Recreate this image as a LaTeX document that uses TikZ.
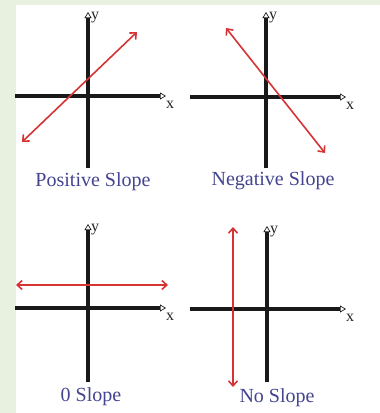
\documentclass[tikz,border=0pt]{standalone}
\usepackage{fontspec}
\setmainfont{Liberation Serif}
\usepackage{xcolor}
\usetikzlibrary{arrows.meta,positioning}
\definecolor{pagegreen}{RGB}{232,240,223}
\definecolor{slopered}{RGB}{214,52,52}
\definecolor{captionblue}{RGB}{68,68,145}

\begin{document}
\begin{tikzpicture}[
    x=1pt, y=-1pt,
    axis/.style={line width=3.2pt, black!90, -{Triangle[open, length=6pt, width=7pt, line width=0.7pt]}},
    slopeline/.style={line width=1.6pt, slopered, {Straight Barb[length=5pt, width=9pt]}-{Straight Barb[length=5pt, width=9pt]}},
    lbl/.style={font=\fontsize{16}{16}\selectfont, inner sep=0pt, text=black!85},
    caption/.style={font=\fontsize{20}{22}\selectfont, text=captionblue, inner sep=0pt}
]
% page and panel
\fill[pagegreen] (0,0) rectangle (380,413);
\fill[white] (16,5) rectangle (380,413);
\useasboundingbox (0,0) rectangle (380,413);

% axes: x left/right, y top/bottom, origin
\foreach \n/\xl/\xr/\yt/\yb/\ox/\oy in {pos/15/166/12/168/88/96,
                                        neg/190/346/12/168/266/97,
                                        zero/15/166/224/382/88/308,
                                        none/190/346/226/382/267/309}
{
    \coordinate (\n-xl) at (\xl,\oy);
    \coordinate (\n-xr) at (\xr,\oy);
    \coordinate (\n-yb) at (\ox,\yb);
    \coordinate (\n-yt) at (\ox,\yt);
    \draw[axis] (\n-xl) -- (\n-xr);
    \draw[axis] (\n-yb) -- (\n-yt);
    \node[lbl, anchor=north west] (\n-x) at ([xshift=0pt, yshift=-5pt]\n-xr) {x};
    \node[lbl, anchor=west] (\n-y) at ([xshift=3pt, yshift=-6pt]\n-yt) {y};
}

% slope lines
\coordinate (pos-a) at (22,142);
\coordinate (pos-b) at (137,32);
\draw[slopeline] (pos-a) -- (pos-b);

\coordinate (neg-a) at (226,28);
\coordinate (neg-b) at (325,153);
\draw[slopeline] (neg-a) -- (neg-b);

\coordinate (zero-a) at (16,285);
\coordinate (zero-b) at (168,285);
\draw[slopeline] (zero-a) -- (zero-b);

\coordinate (none-a) at (233,227);
\coordinate (none-b) at (233,387);
\draw[slopeline] (none-a) -- (none-b);

% captions
\node[caption] (pos-cap)  at (93,182)  {Positive Slope};
\node[caption] (neg-cap)  at (273,181) {Negative Slope};
\node[caption] (zero-cap) at (91,397)  {0 Slope};
\node[caption] (none-cap) at (277,398) {No Slope};
\end{tikzpicture}
\end{document}
